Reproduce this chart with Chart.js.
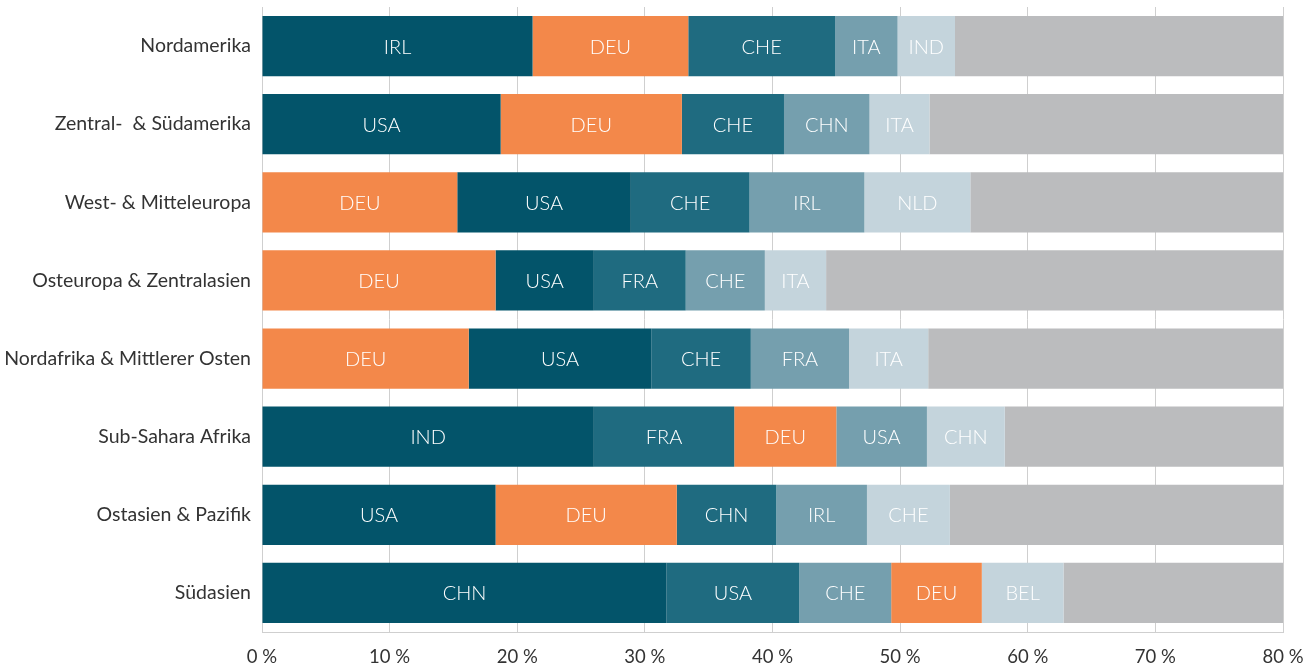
<!DOCTYPE html>
<html lang="de">
<head>
    <meta charset="UTF-8">
    <title>Wichtigste Herkunftsländer nach Region</title>
    <script src="https://cdn.jsdelivr.net/npm/chart.js"></script>
    <style>
        body {
            margin: 0;
            background: #fff;
        }
        #wrap {
            width: 1306px;
            height: 668px;
        }
    </style>
</head>
<body>
    <div id="wrap"><canvas id="myChart" width="1306" height="668"></canvas></div>

    <script>
        const regions = [
            'Nordamerika',
            'Zentral-  & Südamerika',
            'West- & Mitteleuropa',
            'Osteuropa & Zentralasien',
            'Nordafrika & Mittlerer Osten',
            'Sub-Sahara Afrika',
            'Ostasien & Pazifik',
            'Südasien'
        ];

        // Länder je Rang (links nach rechts) und Anteile in %
        const rank1Country = ['IRL', 'USA', 'DEU', 'DEU', 'DEU', 'IND', 'USA', 'CHN'];
        const rank1Share   = [21.2, 18.7, 15.3, 18.3, 16.2, 26.0, 18.3, 31.7];
        const rank2Country = ['DEU', 'DEU', 'USA', 'USA', 'USA', 'FRA', 'DEU', 'USA'];
        const rank2Share   = [12.2, 14.2, 13.6, 7.7, 14.3, 11.0, 14.2, 10.4];
        const rank3Country = ['CHE', 'CHE', 'CHE', 'FRA', 'CHE', 'DEU', 'CHN', 'CHE'];
        const rank3Share   = [11.5, 8.0, 9.3, 7.2, 7.8, 8.0, 7.8, 7.2];
        const rank4Country = ['ITA', 'CHN', 'IRL', 'CHE', 'FRA', 'USA', 'IRL', 'DEU'];
        const rank4Share   = [4.9, 6.7, 9.0, 6.2, 7.7, 7.1, 7.1, 7.1];
        const rank5Country = ['IND', 'ITA', 'NLD', 'ITA', 'ITA', 'CHN', 'CHE', 'BEL'];
        const rank5Share   = [4.5, 4.7, 8.3, 4.8, 6.2, 6.1, 6.5, 6.4];
        const restShare    = [45.7, 47.7, 44.5, 55.8, 47.8, 41.8, 46.1, 37.2];

        const xTicks = [0, 10, 20, 30, 40, 50, 60, 70, 80];

        const ORANGE = '#f3884a';
        const TEALS = ['#03546a', '#1f6b80', '#759fae', '#c4d4dc'];
        const REST = '#bbbcbe';

        const rankCountries = [rank1Country, rank2Country, rank3Country, rank4Country, rank5Country];
        const rankShares = [rank1Share, rank2Share, rank3Share, rank4Share, rank5Share];

        // Farbe: DEU immer orange, die anderen Länder der Reihe nach in Blautönen
        function colorFor(rank, row) {
            if (rankCountries[rank][row] === 'DEU') return ORANGE;
            let n = 0;
            for (let r = 0; r < rank; r++) {
                if (rankCountries[r][row] !== 'DEU') n++;
            }
            return TEALS[n];
        }

        const datasets = rankShares.map((shares, rank) => ({
            label: 'Rang ' + (rank + 1),
            data: shares,
            codes: rankCountries[rank],
            backgroundColor: regions.map((_, row) => colorFor(rank, row)),
            borderWidth: 0
        }));
        datasets.push({
            label: 'Rest',
            data: restShare,
            backgroundColor: REST,
            borderWidth: 0
        });

        const codeLabels = {
            id: 'codeLabels',
            afterDatasetsDraw(chart) {
                const ctx = chart.ctx;
                ctx.save();
                ctx.font = '300 20px Lato, "Open Sans", sans-serif';
                ctx.fillStyle = '#ffffff';
                ctx.textAlign = 'center';
                ctx.textBaseline = 'middle';
                chart.data.datasets.forEach((ds, i) => {
                    if (!ds.codes) return;
                    chart.getDatasetMeta(i).data.forEach((bar, j) => {
                        const p = bar.getCenterPoint();
                        ctx.fillText(ds.codes[j], p.x, p.y + 1);
                    });
                });
                ctx.restore();
            }
        };

        const ctx = document.getElementById('myChart').getContext('2d');
        const myChart = new Chart(ctx, {
            type: 'bar',
            data: {
                labels: regions,
                datasets: datasets
            },
            options: {
                indexAxis: 'y',
                responsive: false,
                animation: false,
                layout: {
                    padding: { top: 7, right: 23, left: 0, bottom: 0 }
                },
                categoryPercentage: 0.77,
                barPercentage: 1,
                plugins: {
                    legend: { display: false },
                    tooltip: { enabled: false }
                },
                scales: {
                    x: {
                        stacked: true,
                        min: 0,
                        max: 80,
                        afterBuildTicks: scale => {
                            scale.ticks = xTicks.map(v => ({ value: v }));
                        },
                        afterFit: scale => {
                            scale.height = 36;
                            scale.paddingLeft = 0;
                            scale.paddingRight = 0;
                        },
                        border: { color: '#cfcfcf' },
                        grid: {
                            color: '#cfcfcf',
                            drawTicks: false
                        },
                        ticks: {
                            padding: 14,
                            color: '#333333',
                            font: { family: 'Lato', size: 18.5 },
                            callback: v => v + ' %'
                        }
                    },
                    y: {
                        stacked: true,
                        afterFit: scale => {
                            scale.width = 262;
                            scale.paddingTop = 0;
                            scale.paddingBottom = 0;
                        },
                        border: { color: '#cfcfcf' },
                        grid: { display: false },
                        ticks: {
                            padding: 3,
                            color: '#333333',
                            font: { family: 'Lato', size: 19.5 }
                        }
                    }
                }
            },
            plugins: [codeLabels]
        });
    </script>
</body>
</html>
